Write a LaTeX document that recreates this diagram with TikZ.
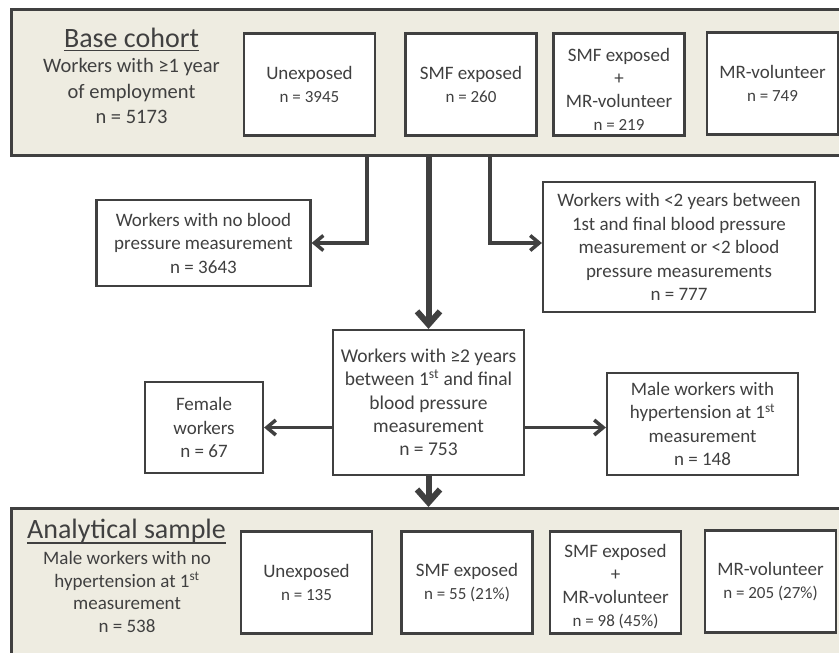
\documentclass[tikz,border=0pt]{standalone}
\usepackage{fontspec}
\setmainfont{Carlito}
\usetikzlibrary{arrows.meta,calc}
\definecolor{txt}{HTML}{404040}
\definecolor{bg}{HTML}{EEECE1}
\definecolor{ln}{HTML}{404040}
\newcommand{\nl}[1]{{\fontsize{17}{20}\selectfont #1}}
\begin{document}
\begin{tikzpicture}[x=1pt,y=-1pt,
  bigbox/.style={draw=ln, line width=3pt, fill=bg, anchor=north west, inner sep=0pt},
  ibox/.style={draw=ln, line width=2.2pt, fill=white, minimum width=131pt, minimum height=102pt,
    align=center, inner sep=0pt, text=txt, font=\fontsize{19}{23}\selectfont},
  fbox/.style={draw=ln, line width=2.2pt, fill=white, align=center, inner sep=0pt, text=txt,
    font=\fontsize{19}{23.5}\selectfont},
  title/.style={text=txt, inner sep=0pt, anchor=base, font=\fontsize{28}{32}\selectfont},
  desc/.style={text=txt, inner sep=0pt, align=center},
  arr/.style={draw=ln, line width=3.5pt, -{Straight Barb[length=9pt,width=15pt]}},
  bigarr/.style={draw=ln, line width=6pt, -{Straight Barb[length=13pt,width=23pt]}},
  uline/.style={draw=ln, line width=1.4pt}
]
\useasboundingbox (0,0) rectangle (839,653);
\clip (0,0) rectangle (839,653);

% Base cohort
\node[bigbox, minimum width=870pt, minimum height=146pt] (base) at (10,8) {};
\node[title] (bt) at (131.5,47) {Base cohort};
\draw[uline] ($(bt.base west)+(0,3.5)$) -- ($(bt.base east)+(0,3.5)$);
\node[desc, font=\fontsize{20.5}{25.5}\selectfont] (bd) at (131.5,91)
  {Workers with ≥1 year\\of employment\\n = 5173};
\node[ibox] (u1) at (309.5,84.5) {Unexposed\\\nl{n = 3945}};
\node[ibox] (s1) at (471,84.5) {SMF exposed\\\nl{n = 260}};
\node[ibox] (sm1) at (619,84.5) {\rule{0pt}{22pt}SMF exposed\\+\\MR-volunteer\\\nl{n = 219}};
\node[ibox] (m1) at (772.5,83.5) {MR-volunteer\\\nl{n = 749}};

% exclusion boxes
\node[fbox, minimum width=214pt, minimum height=86pt] (nobp) at (203.5,243)
  {Workers with no blood\\pressure measurement\\n = 3643};
\node[fbox, minimum width=272pt, minimum height=130pt] (lt2) at (679,247)
  {Workers with <2 years between\\1st and final blood pressure\\measurement or <2 blood\\pressure measurements\\n = 777};

% middle box
\node[fbox, font=\fontsize{19.5}{23.3}\selectfont, minimum width=191pt, minimum height=145pt] (mid) at (428.5,402.5)
  {Workers with ≥2 years\\between 1\textsuperscript{st} and final\\blood pressure\\measurement\\n = 753};
\node[fbox, minimum width=118pt, minimum height=91pt] (fem) at (204,427.5)
  {Female\\workers\\n = 67};
\node[fbox, minimum width=191pt, minimum height=102pt] (male) at (702.5,424)
  {Male workers with\\hypertension at 1\textsuperscript{st}\\measurement\\n = 148};

% Analytical sample
\node[bigbox, minimum width=870pt, minimum height=180pt] (anal) at (10,507) {};
\node[title] (at) at (126.5,538) {Analytical sample};
\draw[uline] ($(at.base west)+(0,5)$) -- ($(at.base east)+(0,5)$);
\node[desc, font=\fontsize{19}{22.8}\selectfont] (ad) at (127,592)
  {Male workers with no\\hypertension at 1\textsuperscript{st}\\measurement\\n = 538};
\node[ibox] (u2) at (306.5,582.5) {Unexposed\\\nl{n = 135}};
\node[ibox] (s2) at (467,582.5) {SMF exposed\\\nl{n = 55 (21\%)}};
\node[ibox] (sm2) at (615.5,582.5) {\rule{0pt}{22pt}SMF exposed\\+\\MR-volunteer\\\nl{n = 98 (45\%)}};
\node[ibox] (m2) at (770.5,581.5) {MR-volunteer\\\nl{n = 205 (27\%)}};

% connectors
\coordinate (c1) at (367,0);
\coordinate (c2) at (490,0);
\draw[arr] (base.south -| c1) |- (nobp.east);
\draw[arr] (base.south -| c2) |- (lt2.west |- nobp.east);
\draw[bigarr] (base.south -| mid.north) -- (mid.north);
\draw[arr] (mid.west |- fem.east) -- (fem.east);
\draw[arr] (mid.east |- fem.east) -- (male.west |- fem.east);
\draw[bigarr] (mid.south) -- (mid.south |- anal.north);
\end{tikzpicture}
\end{document}
